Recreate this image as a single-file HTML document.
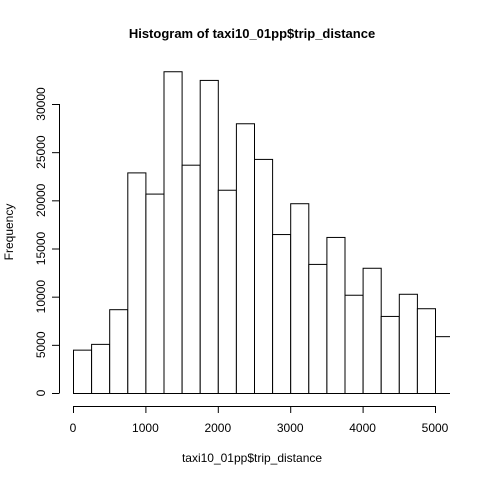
<!DOCTYPE html>
<html><head><meta charset="utf-8"><style>body{margin:0;background:#fff}svg{display:block}text{font-family:"Liberation Sans",Arial,sans-serif;fill:#000}</style></head>
<body>
<svg id="c" width="480" height="480" viewBox="0 0 480 480">
<defs><clipPath id="plot"><rect x="59" y="59" width="391" height="342"/></clipPath></defs>
<text x="252" y="38" text-anchor="middle" font-size="13" font-weight="bold">Histogram of taxi10_01pp$trip_distance</text>
<text x="252" y="462" text-anchor="middle" font-size="12">taxi10_01pp$trip_distance</text>
<text transform="translate(13,232) rotate(-90)" text-anchor="middle" font-size="12">Frequency</text>
<g id="bars" clip-path="url(#plot)"></g>
<g id="xaxis"></g>
<g id="yaxis"></g>
</svg>
<script>
const binStarts=[0,250,500,750,1000,1250,1500,1750,2000,2250,2500,2750,3000,3250,3500,3750,4000,4250,4500,4750,5000];
const counts=[4500,5100,8700,22900,20700,33400,23700,32500,21100,28000,24300,16500,19700,13400,16200,10200,13000,8000,10300,8800,5900];
const binWidth=250;
const xTicks=[0,1000,2000,3000,4000,5000];
const yTicks=[0,5000,10000,15000,20000,25000,30000];
const ns="http://www.w3.org/2000/svg";
const X=v=>73+v*(435-73)/5000;
const Y=v=>393-v*(393-104)/30000;
function mk(t,a,p){const e=document.createElementNS(ns,t);for(const k in a)e.setAttribute(k,a[k]);p.appendChild(e);return e;}
const bars=document.getElementById('bars');
binStarts.forEach((b,i)=>{
  const r=mk('rect',{x:X(b)+0.5,y:Y(counts[i])+0.5,width:X(b+binWidth)-X(b),height:Y(0)-Y(counts[i]),fill:'#fff',stroke:'#000','stroke-width':1},bars);
  
  
});
const xa=document.getElementById('xaxis');
mk('line',{x1:X(0),x2:X(5000),y1:406.5,y2:406.5,stroke:'#000'},xa);
xTicks.forEach(t=>{
  mk('line',{x1:X(t)+0.5,x2:X(t)+0.5,y1:406,y2:413,stroke:'#000'},xa);
  const tx=mk('text',{x:X(t),y:432,'text-anchor':'middle','font-size':12},xa);tx.textContent=t;
  
  
});
const ya=document.getElementById('yaxis');
mk('line',{x1:59.5,x2:59.5,y1:Y(0),y2:Y(30000),stroke:'#000'},ya);
yTicks.forEach(t=>{
  mk('line',{x1:52,x2:59.5,y1:Y(t)+0.5,y2:Y(t)+0.5,stroke:'#000'},ya);
  const tx=mk('text',{transform:`translate(45,${Y(t)}) rotate(-90)`,'text-anchor':'middle','font-size':12},ya);tx.textContent=t;
  
  
});
</script>
</body></html>
